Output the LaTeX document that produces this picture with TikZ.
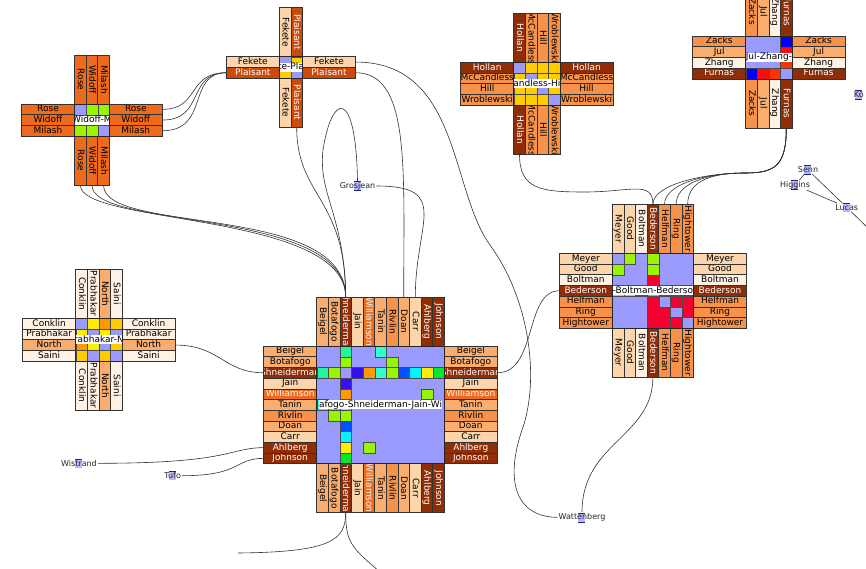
\documentclass[tikz,border=0pt]{standalone}
\usepackage{fontspec}
\newfontfamily\trixfont{DejaVu Sans}

\definecolor{matbg}{HTML}{9A9AFF}
\definecolor{pboxfill}{HTML}{B8B8FF}
\definecolor{pboxline}{HTML}{202080}
\definecolor{lvA}{HTML}{FFF2E5}
\definecolor{lvB}{HTML}{FDD5AA}
\definecolor{lvC}{HTML}{F9AD6E}
\definecolor{lvD}{HTML}{F6924A}
\definecolor{lvE}{HTML}{EE6B1D}
\definecolor{lvF}{HTML}{CC4A0A}
\definecolor{lvG}{HTML}{8F2D06}
\definecolor{cLime}{HTML}{99F500}
\definecolor{cMint}{HTML}{22F5A0}
\definecolor{cTeal}{HTML}{33FFCC}
\definecolor{cViolet}{HTML}{3311EE}
\definecolor{cBlue}{HTML}{0050FF}
\definecolor{cOrange}{HTML}{FF9900}
\definecolor{cCyan}{HTML}{00F5FF}
\definecolor{cYellow}{HTML}{FFEE00}
\definecolor{cGreen}{HTML}{00E830}
\definecolor{cRed}{HTML}{F50030}
\definecolor{cGold}{HTML}{FFCC00}
\definecolor{cPure}{HTML}{0000FF}
\definecolor{cRedA}{HTML}{FF0A0A}
\definecolor{cRedB}{HTML}{FF3300}

\def\trixw{11.6}
\def\trixh{10.7}

% a matrix with its four bands of labels: name, left, top, size, who/fill/text
\newcommand\nodetrix[5]{%
  \node[mat, minimum width=#4*\trixw, minimum height=#4*\trixh, anchor=north west] (#1) at (#2,#3) {};
  \foreach \who/\bg/\fg [count=\i from 0] in {#5} {
    \node[rowlab, fill=\bg, anchor=north east,
          path picture={\node[labtxt, text=\fg] at (path picture bounding box.center) {\who};}]
          (#1-L-\i) at ({#2}, {#3+\i*\trixh}) {};
    \node[rowlab, fill=\bg, anchor=north west,
          path picture={\node[labtxt, text=\fg] at (path picture bounding box.center) {\who};}]
          (#1-R-\i) at ({#2+#4*\trixw}, {#3+\i*\trixh}) {};
    \node[collab, fill=\bg, anchor=south west,
          path picture={\node[labtxt, text=\fg, rotate=-90] at (path picture bounding box.center) {\who};}]
          (#1-T-\i) at ({#2+\i*\trixw}, {#3}) {};
    \node[collab, fill=\bg, anchor=north west,
          path picture={\node[labtxt, text=\fg, rotate=-90] at (path picture bounding box.center) {\who};}]
          (#1-B-\i) at ({#2+\i*\trixw}, {#3+#4*\trixh}) {};
  }}

% filled cells, each given once and mirrored
\newcommand\trixcells[3]{%
  \foreach \rr/\cc/\col in {#3} {
    \path[cellbox, fill=\col] ({#1+\cc*\trixw}, {#2+\rr*\trixh}) rectangle ++(\trixw,\trixh);
    \path[cellbox, fill=\col] ({#1+\rr*\trixw}, {#2+\cc*\trixh}) rectangle ++(\trixw,\trixh);
  }}

% name band across the middle of a matrix
\newcommand\trixname[2]{%
  \begin{scope}
    \clip (#1.north west) rectangle (#1.south east);
    \node[ctr] (#1-name) at (#1.center) {#2};
  \end{scope}
  \draw[matline] (#1.north west) rectangle (#1.south east);}

\begin{document}
\begin{tikzpicture}[
    x=1pt, y=-1pt,
    mat/.style={draw=black!85, fill=matbg, line width=0.6pt, inner sep=0pt, outer sep=0pt},
    matline/.style={draw=black!85, line width=0.6pt},
    rowlab/.style={draw=black!80, line width=0.5pt, minimum width=53, minimum height=\trixh,
                   inner sep=0pt, outer sep=0pt},
    collab/.style={rowlab, minimum width=\trixw, minimum height=49},
    labtxt/.style={anchor=center, font=\trixfont\fontsize{9}{9}\selectfont, inner sep=0pt,
                   minimum width=0pt, minimum height=0pt, draw=none, fill=none,
                   text height=6.5pt, text depth=1.5pt},
    cellbox/.style={draw=black!70, line width=0.4pt},
    ctr/.style={fill=white, inner sep=0.5pt, font=\trixfont\fontsize{9}{9}\selectfont,
                text height=6.5pt, text depth=1.5pt},
    person/.style={font=\trixfont\fontsize{8}{8}\selectfont, text=black!85, inner sep=1pt,
                   path picture={
                     \fill[pboxfill] ([xshift=-4pt, yshift=-4.5pt]path picture bounding box.center)
                                     rectangle ([xshift=3pt, yshift=4.5pt]path picture bounding box.center);
                     \draw[pboxline, line width=0.5pt]
                           ([xshift=-4pt, yshift=-4.5pt]path picture bounding box.center)
                        -- ([xshift=3pt, yshift=-4.5pt]path picture bounding box.center)
                           ([xshift=-4pt, yshift=4.5pt]path picture bounding box.center)
                        -- ([xshift=3pt, yshift=4.5pt]path picture bounding box.center);}},
    link/.style={draw=black!80, line width=0.6pt},
]
\useasboundingbox (0,0) rectangle (866,568);
\clip (0,0) rectangle (866,568);

% ---- big matrix --------------------------------------------------------------
\nodetrix{beigel}{316.7}{346}{11}{Beigel/lvC/black,Botafogo/lvC/black,Shneiderman/lvG/white,
  Jain/lvB/black,Williamson/lvE/white,Tanin/lvC/black,Rivlin/lvD/black,Doan/lvC/black,
  Carr/lvB/black,Ahlberg/lvG/white,Johnson/lvG/white}
\trixcells{316.7}{346}{0/2/cMint,0/5/cTeal,1/2/cLime,1/6/cLime,2/3/cViolet,2/4/cOrange,
  2/5/cTeal,2/6/cLime,2/7/cBlue,2/8/cCyan,2/9/cYellow,2/10/cGreen,4/9/cLime}
\trixname{beigel}{afogo-Shneiderman-Jain-Wi}

% ---- right matrix ------------------------------------------------------------
\nodetrix{meyer}{612.3}{253.3}{7}{Meyer/lvB/black,Good/lvB/black,Boltman/lvA/black,
  Bederson/lvG/white,Helfman/lvD/black,Ring/lvD/black,Hightower/lvD/black}
\trixcells{612.3}{253.3}{0/1/cLime,0/3/cLime,1/3/cLime,2/3/cRed,3/4/cRed,3/5/cRed,
  3/6/cRed,4/5/cRed,4/6/cRed,5/6/cRed}
\trixname{meyer}{-Boltman-Bederso}

% ---- small matrices ----------------------------------------------------------
\nodetrix{rose}{74.5}{104}{3}{Rose/lvE/black,Widoff/lvE/black,Milash/lvE/black}
\trixcells{74.5}{104}{0/1/cLime,0/2/cLime,1/2/cLime}
\trixname{rose}{Widoff-M}

\nodetrix{conklin}{75.7}{318.3}{4}{Conklin/lvA/black,Prabhakar/lvA/black,North/lvC/black,Saini/lvA/black}
\trixcells{75.7}{318.3}{0/1/cYellow,0/2/cOrange,0/3/cGold,1/2/cYellow,2/3/cGold}
\trixname{conklin}{rabhakar-N}

\nodetrix{fekete}{279.3}{56.7}{2}{Fekete/lvB/black,Plaisant/lvF/white}
\trixcells{279.3}{56.7}{0/1/cGold}
\trixname{fekete}{te-Pla}

\nodetrix{hollan}{513.7}{62.3}{4}{Hollan/lvG/white,McCandless/lvD/black,Hill/lvD/black,Wroblewski/lvD/black}
\trixcells{513.7}{62.3}{0/1/cGold,0/2/cGold,0/3/cGold,1/2/cGold,1/3/cGold,2/3/cGold}
\trixname{hollan}{andless-Hi}

\nodetrix{zacks}{745.7}{36}{4}{Zacks/lvD/black,Jul/lvC/black,Zhang/lvA/black,Furnas/lvG/white}
\trixcells{745.7}{36}{0/3/cPure,1/3/cRedA,2/3/cRedB}
\trixname{zacks}{Jul-Zhang-}

% ---- single people -----------------------------------------------------------
\node[person] (gros) at (357.5,186) {Grosjean};
\node[person] (wist) at (79,463.3) {Wistrand};
\node[person] (tufo) at (172.7,475.7) {Tufo};
\node[person] (watt) at (582,517.3) {Wattenberg};
\node[person] (senn) at (808,170) {Senn};
\node[person] (higg) at (795,185) {Higgins};
\node[person] (lucas) at (846.7,207.3) {Lucas};
\node[person, anchor=west] (koe) at (852.7,95) {Kö};

\coordinate (offL) at (238,553);
\coordinate (offR) at (380,572);
\coordinate (offSE) at (870,230);

% ---- links -------------------------------------------------------------------
\foreach \k in {0,1,2}
  \draw[link] (rose-R-\k.east) .. controls +(38+5*\k,0) and +(-40,0) .. (fekete-L-1.west);
\foreach \k in {0,1,2}
  \draw[link] (rose-B-\k.south) .. controls +(0,40+5*\k) and +(0,-85-5*\k) .. (beigel-T-2.north);
\draw[link] (fekete-B-1.south) .. controls +(0,70) and +(0,-100) .. (beigel-T-2.north);
\draw[link] (gros.north) .. controls (356,88) and (332,92) .. (323,150)
            .. controls (318,195) and (344.5,215) .. (beigel-T-2.north);
\draw[link] (gros.east) .. controls +(75,0) and +(0,-75) .. (beigel-T-8.north);
\draw[link] (fekete-R-1.east) .. controls +(55,0) and +(0,-130) .. (beigel-T-7.north);
\draw[link] (fekete-R-0.east) .. controls (460,62) and (450,190) .. (490,245)
            .. controls (530,300) and (540,380) .. (522,430)
            .. controls (505,480) and (515,517) .. (watt.west);
\draw[link] (beigel-R-2.east) .. controls +(40,0) and +(-35,0) .. (meyer-L-3.west);
\draw[link] (meyer-B-3.south) .. controls +(0,60) and +(0,-70) .. (watt.north);
\draw[link] (hollan-B-0.south) .. controls +(0,35) and (540,192) .. (585,192)
            .. controls (630,192) and (652.9,180) .. (meyer-T-3.north);
\foreach \k in {3,...,6}
  \draw[link] (zacks-B-3.south) .. controls +(0,38) and (775,173) .. (745,173)
              .. controls +(-40,0) and +(0,-20) .. (meyer-T-\k.north);
\draw[link] (conklin-R-2.east) .. controls +(45,0) and +(-40,0) .. (beigel-L-2.west);
\draw[link] (wist.east) .. controls +(135,0) and +(-35,0) .. (beigel-L-9.west);
\draw[link] (tufo.east) .. controls +(60,0) and +(-30,0) .. (beigel-L-10.west);
\draw[link] (beigel-B-2.south) .. controls +(0,28) and (330,552) .. (offL);
\draw[link] (beigel-B-2.south) .. controls +(0,30) and (352,548) .. (offR);
\draw[link] (senn) -- (lucas);
\draw[link] (higg) -- (lucas);
\draw[link] (senn) -- (higg);
\draw[link] (lucas) -- (offSE);

\end{tikzpicture}
\end{document}
